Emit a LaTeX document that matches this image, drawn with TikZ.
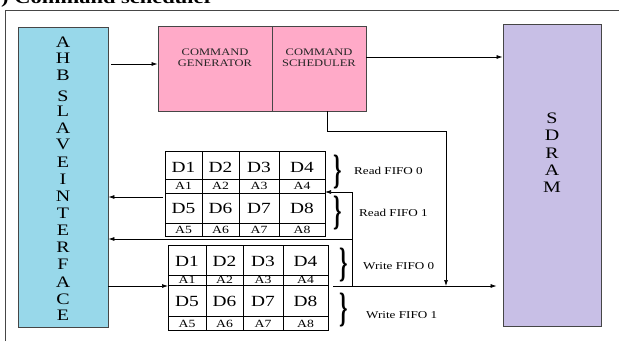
\documentclass[tikz,border=0pt]{standalone}
\usepackage{fontspec}
\setmainfont[FakeStretch=1.25]{Liberation Serif}
\usetikzlibrary{arrows.meta}

\definecolor{ahbblue}{RGB}{152,216,234}
\definecolor{cmdpink}{RGB}{255,170,200}
\definecolor{ramlilac}{RGB}{200,191,230}
\definecolor{edgegray}{RGB}{70,70,70}

\tikzset{
  blockbox/.style={draw=edgegray,line width=0.9pt,inner sep=0pt},
  bigletter/.style={font=\fontsize{16}{16}\selectfont,text height=10.5pt,text depth=0pt,inner sep=0pt},
  cmdtext/.style={font=\fontsize{10}{11}\selectfont,align=center,text=black!85,inner sep=0pt},
  dcell/.style={font=\fontsize{15.5}{15.5}\selectfont,inner sep=0pt},
  acell/.style={font=\fontsize{11}{11}\selectfont,inner sep=0pt},
  fifolabel/.style={font=\fontsize{10.5}{10.5}\selectfont,anchor=west,inner sep=0pt},
  fifobrace/.style={inner sep=0pt,font=\bfseries\fontsize{41}{41}\selectfont},
  wire/.style={line width=0.7pt},
  arr/.style={wire,-{Latex[length=6pt,width=4pt]}},
}

\begin{document}
\begin{tikzpicture}[x=1pt,y=1pt,yscale=-1]
\useasboundingbox (0,0) rectangle (619,341);

% Caption (cut off at the top)
\node[anchor=base west,inner sep=0pt,font=\bfseries\fontsize{18}{18}\selectfont] (caption) at (1,3) {) Command scheduler};

%Outer frame
\draw [edgegray,line width=0.8pt] (5,341) -- (5,10) -- (619,10) ;

%Shape: AHB slave interface
\node [blockbox,fill=ahbblue,minimum width=90pt,minimum height=300pt] (ahb) at (63,177) {};
\foreach \l/\y [count=\i] in {A/42,H/58,B/75,S/96,L/111,A/128,V/144,E/162,I/179,N/196,T/213,E/230,R/247,F/264,A/282,C/299,E/315}
  \node [bigletter] (ahb\i) at (63,\y) {\l};

%Shape: Command generator / scheduler
\node [blockbox,fill=cmdpink,minimum width=114pt,minimum height=85pt] (cmdgen) at (215,68.5) {};
\node [blockbox,fill=cmdpink,minimum width=94pt,minimum height=85pt] (cmdsch) at (319,68.5) {};
% Text Node
\node [cmdtext] (gentext) at (215,58) {COMMAND\\GENERATOR};
% Text Node
\node [cmdtext] (schtext) at (319,58) {COMMAND\\SCHEDULER};

%Shape: SDRAM
\node [blockbox,fill=ramlilac,minimum width=98pt,minimum height=302pt] (sdram) at (552,175) {};
\foreach \l/\y [count=\i] in {S/118,D/135,R/153,A/170,M/187}
  \node [bigletter] (sdram\i) at (552,\y) {\l};

%Read FIFO grid
\draw [wire] (165,151) rectangle (325,236) ;
\foreach \y in {179,193,223} \draw [wire] (165,\y) -- (325,\y) ;
\foreach \x in {202,239,279} \draw [wire] (\x,151) -- (\x,236) ;
\foreach \x [count=\i] in {183.5,220.5,259,302} {
  \pgfmathtruncatemacro{\j}{\i+4}
  \node [dcell] (rd\i) at (\x,167) {D\i};
  \node [acell] (ra\i) at (\x,186) {A\i};
  \node [dcell] (rd\j) at (\x,208) {D\j};
  \node [acell] (ra\j) at (\x,229.5) {A\j};
}

%Write FIFO grid
\draw [wire] (168,245) rectangle (328,330) ;
\foreach \y in {275,285,316} \draw [wire] (168,\y) -- (328,\y) ;
\foreach \x in {206,243,283} \draw [wire] (\x,245) -- (\x,330) ;
\foreach \x [count=\i] in {187,224.5,263,305.5} {
  \pgfmathtruncatemacro{\j}{\i+4}
  \node [dcell] (wd\i) at (\x,261) {D\i};
  \node [acell] (wa\i) at (\x,280) {A\i};
  \node [dcell] (wd\j) at (\x,301) {D\j};
  \node [acell] (wa\j) at (\x,323.5) {A\j};
}

%Braces and FIFO labels
\node [fifobrace] (rbrace0) at (338,172) {\scalebox{0.42}[1]{\}}};
\node [fifolabel] (rfifo0) at (354,171) {Read FIFO 0};
\node [fifobrace] (rbrace1) at (338,213) {\scalebox{0.42}[1]{\}}};
\node [fifolabel] (rfifo1) at (359,213) {Read FIFO 1};
\node [fifobrace] (wbrace0) at (344,265) {\scalebox{0.42}[1]{\}}};
\node [fifolabel] (wfifo0) at (363,266) {Write FIFO 0};
\node [fifobrace] (wbrace1) at (344,310) {\scalebox{0.42}[1]{\}}};
\node [fifolabel] (wfifo1) at (366,315) {Write FIFO 1};

%Connection points
\coordinate (genin) at (111,64);
\coordinate (schout) at (366,57);
\coordinate (schturn) at (446,131);
\coordinate (busjoin) at (446,286);
\coordinate (wfifoin) at (168,286);
\coordinate (wfifoout) at (333,286);
\coordinate (rtap) at (352,286);
\coordinate (rfifoin) at (325,192);
\coordinate (rsplit) at (352,239);
\coordinate (rfifoout) at (163,197);

%Straight Lines
\draw [arr] (genin) -- (cmdgen.west |- genin) ;
\draw [arr] (schout) -- (sdram.west |- schout) ;
\draw [arr] ([xshift=8pt]cmdsch.south) |- (schturn) -- (busjoin) ;
\draw [arr] (ahb.east |- wfifoin) -- (wfifoin) ;
\draw [arr,shorten >=6pt] (wfifoout) -- (sdram.west |- wfifoout) ;
\draw [arr] (rtap) |- (rfifoin) ;
\draw [arr] (rsplit) -- (ahb.east |- rsplit) ;
\draw [arr] (rfifoout) -- (ahb.east |- rfifoout) ;

\end{tikzpicture}
\end{document}
